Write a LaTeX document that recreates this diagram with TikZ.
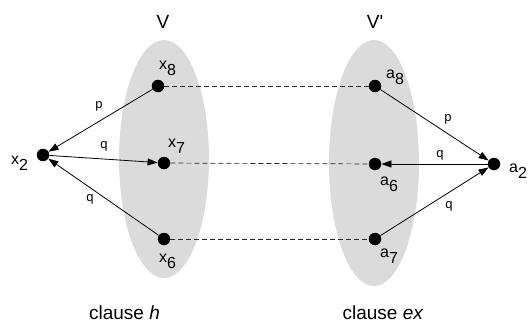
\documentclass[tikz,border=0pt]{standalone}
\usepackage{fontspec}
\setmainfont{Liberation Sans}
\usetikzlibrary{arrows.meta}
\begin{document}
\begin{tikzpicture}[x=1pt,y=-1pt,
  vtx/.style={circle,fill=black,inner sep=0pt,minimum size=12.5pt},
  setbg/.style={fill=black!14,draw=none},
  rel/.style={line width=0.8pt,-{Triangle[length=10pt,width=7pt]}},
  link/.style={line width=0.7pt,dash pattern=on 5pt off 3pt,black!85},
  vlabel/.style={anchor=base west,inner sep=0pt,font=\fontsize{16}{16}\selectfont},
  elabel/.style={inner sep=0pt,font=\fontsize{13}{13}\selectfont},
  title/.style={anchor=base,inner sep=0pt,font=\fontsize{19}{19}\selectfont}]
\useasboundingbox (0,0) rectangle (532,322);

% the two variable sets
\fill[setbg] (164,159) ellipse [x radius=45pt, y radius=119pt];
\fill[setbg] (374,163) ellipse [x radius=45pt, y radius=123pt];

\node[title] (tV) at (163,28) {V};
\node[title] (tVp) at (375,28) {V\textquotesingle};

% vertices
\node[vtx] (x8) at (158,86) {};
\node[vtx] (x7) at (164,163) {};
\node[vtx] (x6) at (164,239) {};
\node[vtx] (x2) at (43,155) {};
\node[vtx] (a8) at (375,86) {};
\node[vtx] (a6) at (375,164) {};
\node[vtx] (a7) at (375,239) {};
\node[vtx] (a2) at (494,164) {};

% vertex names
\node[vlabel] (lx8) at (159,69) {x\raisebox{-6pt}{8}};
\node[vlabel] (lx7) at (168,147) {x\raisebox{-6pt}{7}};
\node[vlabel] (lx6) at (159,262) {x\raisebox{-6pt}{6}};
\node[vlabel] (lx2) at (11,164) {x\raisebox{-6pt}{2}};
\node[vlabel] (la8) at (386,78) {a\raisebox{-6pt}{8}};
\node[vlabel] (la6) at (380,185) {a\raisebox{-6pt}{6}};
\node[vlabel] (la7) at (380,257) {a\raisebox{-6pt}{7}};
\node[vlabel] (la2) at (509,172) {a\raisebox{-6pt}{2}};

% correspondence between the sets
\draw[link] (x8) -- (a8);
\draw[link] (x7) -- (a6);
\draw[link] (x6) -- (a7);

% relations
\draw[rel] (x8) -- (x2);
\draw[rel] (x2) -- (x7);
\draw[rel] (x6) -- (x2);
\draw[rel] (a8) -- (a2);
\draw[rel] (a2) -- (a6);
\draw[rel] (a7) -- (a2);

\node[elabel] (p1) at (99,106) {p};
\node[elabel] (q1) at (104,146) {q};
\node[elabel] (q2) at (90,199) {q};
\node[elabel] (p2) at (448,119) {p};
\node[elabel] (q3) at (440,155) {q};
\node[elabel] (q4) at (449,206) {q};

\node[title] (ch) at (124.5,319) {clause \textit{h}};
\node[title] (ce) at (383,319) {clause \textit{ex}};
\end{tikzpicture}
\end{document}
